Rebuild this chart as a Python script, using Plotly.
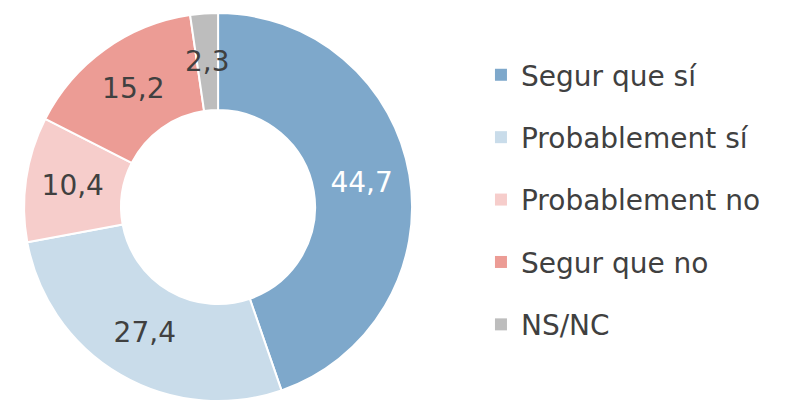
import numpy as np
import plotly.graph_objects as go

# Survey answers (percent)
categories = ['Segur que sí', 'Probablement sí', 'Probablement no', 'Segur que no', 'NS/NC']
values = [44.7, 27.4, 10.4, 15.2, 2.3]
colors = ['#7EA8CB', '#C9DCEA', '#F6CDCB', '#EC9C95', '#BDBDBD']
text_colors = ['#FFFFFF', '#404040', '#404040', '#404040', '#404040']

font_family = 'DejaVu Sans, sans-serif'
W, H = 785, 405
dom_x = [0.0204, 0.5148]
dom_y = [0.0296, 0.9876]
hole = 0.5

labels_txt = [f'{v:.1f}'.replace('.', ',') for v in values]

fig = go.Figure()

fig.add_trace(go.Pie(
    labels=categories,
    values=values,
    text=labels_txt[:-1] + [''],
    textinfo='text',
    textposition='inside',
    insidetextorientation='horizontal',
    textfont=dict(family=font_family, size=28, color=text_colors),
    hole=hole,
    sort=False,
    direction='clockwise',
    rotation=0,
    marker=dict(colors=colors, line=dict(color='white', width=2)),
    showlegend=False,
    domain=dict(x=dom_x, y=dom_y),
))

# the small last slice gets its label in the middle of the ring, like the original
cx = (dom_x[0] + dom_x[1]) / 2 * W
cy = (dom_y[0] + dom_y[1]) / 2 * H
r_out = min((dom_x[1] - dom_x[0]) * W, (dom_y[1] - dom_y[0]) * H) / 2
r_mid = r_out * (1 + hole) / 2
total = sum(values)
mid_frac = (sum(values[:-1]) + values[-1] / 2) / total
ang = 2 * np.pi * mid_frac
fig.add_annotation(
    x=(cx + r_mid * np.sin(ang)) / W, y=(cy + r_mid * np.cos(ang)) / H,
    xref='paper', yref='paper', xanchor='center', yanchor='middle',
    text=labels_txt[-1], showarrow=False,
    font=dict(family=font_family, size=28, color=text_colors[-1]),
)

# legend entries as dummy traces so the spacing between them can be set
for name, col in zip(categories, colors):
    fig.add_trace(go.Scatter(
        x=[None], y=[None], mode='markers', name=name, legendgroup=name,
        marker=dict(symbol='square', size=15, color=col),
    ))

fig.update_layout(
    width=W, height=H,
    margin=dict(l=0, r=0, t=0, b=0),
    paper_bgcolor='white', plot_bgcolor='white',
    xaxis=dict(visible=False), yaxis=dict(visible=False),
    uniformtext=dict(minsize=24, mode='show'),
    legend=dict(
        x=0.6025, y=0.527, xanchor='left', yanchor='middle',
        font=dict(family=font_family, size=28, color='#404040'),
        tracegroupgap=23, itemsizing='constant',
    ),
)

fig.write_html('out.html')
